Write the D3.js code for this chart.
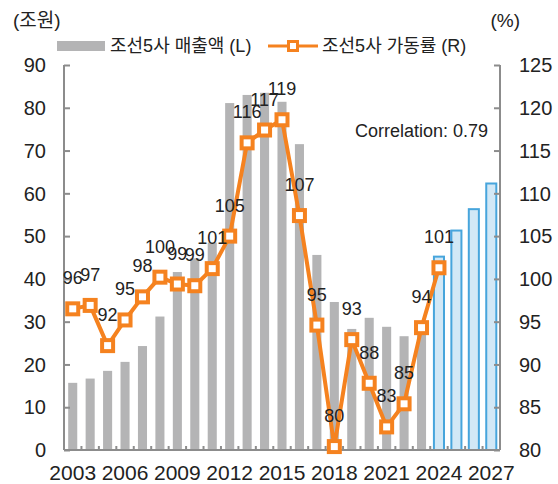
<!DOCTYPE html>
<html>
<head>
<meta charset="utf-8">
<script src="https://cdn.jsdelivr.net/npm/d3@7"></script>
<style>
  body { margin: 0; background: #fff; }
  svg text { font-family: "Liberation Sans", Arial, "Noto Sans CJK KR", sans-serif; fill: #222; }
</style>
</head>
<body>
<svg id="chart" width="558" height="484"></svg>
<script>
// Data
const years = d3.range(2003, 2028).map(String);
const sales = [15.7, 16.7, 18.5, 20.6, 24.3, 31.2, 41.6, 44.8, 48.5, 81.1, 83.0, 83.5, 81.4, 71.5,
               45.6, 34.6, 28.3, 30.9, 28.8, 26.6, 29.5, 45.2, 51.3, 56.3, 62.3];
const forecastFrom = 2024;
const utilYears = d3.range(2003, 2025).map(String);
const utilization = [96.5, 96.9, 92.2, 95.2, 97.9, 100.2, 99.4, 99.2, 101.2, 105.0, 115.9, 117.4,
                     118.6, 107.4, 94.6, 80.4, 92.9, 87.8, 82.7, 85.4, 94.3, 101.3];
const utilLabels = ['96', '97', '92', '95', '98', '100', '99', '99', '101', '105', '116', '117',
                    '119', '107', '95', '80', '93', '88', '83', '85', '94', '101'];
const leftTicks = [0, 10, 20, 30, 40, 50, 60, 70, 80, 90];
const rightTicks = [80, 85, 90, 95, 100, 105, 110, 115, 120, 125];
const yearLabels = ['2003', '2006', '2009', '2012', '2015', '2018', '2021', '2024', '2027'];

const svg = d3.select('#chart');
const plotL = 64, plotR = 500, plotT = 65, plotB = 450;
const orange = '#f5821f', gray = '#b4b4b5', axisColor = '#8c8c8c';

const x = d3.scaleBand().domain(years).range([plotL, plotR]).paddingInner(0.48).paddingOuter(0.24);
const yL = d3.scaleLinear().domain([0, 90]).range([plotB, plotT]);
const yR = d3.scaleLinear().domain([80, 125]).range([plotB, plotT]);

// Bars
svg.append('g').selectAll('rect')
  .data(years.map((y, i) => ({ year: y, v: sales[i] })))
  .join('rect')
  .attr('x', d => +d.year >= forecastFrom ? x(d.year) - 0.5 : x(d.year))
  .attr('width', d => +d.year >= forecastFrom ? x.bandwidth() + 1 : x.bandwidth())
  .attr('y', d => yL(d.v))
  .attr('height', d => plotB - yL(d.v))
  .attr('fill', d => +d.year >= forecastFrom ? '#d2e8f6' : gray)
  .attr('stroke', d => +d.year >= forecastFrom ? '#47a5dc' : 'none')
  .attr('stroke-width', 2);

// Axes
const leftAxis = svg.append('g').attr('transform', `translate(${plotL},0)`)
  .call(d3.axisRight(yL).tickValues(leftTicks).tickSize(6).tickFormat(''));
const rightAxis = svg.append('g').attr('transform', `translate(${plotR},0)`)
  .call(d3.axisLeft(yR).tickValues(rightTicks).tickSize(6).tickFormat(''));
[leftAxis, rightAxis].forEach(a => {
  a.select('.domain').attr('d', `M0,${plotT}V${plotB}`);
});

const step = x.step();
const x0 = x.range()[0];
const bAxis = svg.append('g');
bAxis.append('line').attr('x1', plotL).attr('x2', plotR).attr('y1', plotB).attr('y2', plotB);
bAxis.selectAll('.bt').data(d3.range(1, years.length))
  .join('line').attr('class', 'bt')
  .attr('x1', i => x0 + i * step).attr('x2', i => x0 + i * step)
  .attr('y1', plotB).attr('y2', plotB - 4);
svg.selectAll('.domain, .tick line').attr('stroke', axisColor).attr('stroke-width', 2);
bAxis.selectAll('line').attr('stroke', axisColor).attr('stroke-width', 2);

svg.append('g').selectAll('text').data(leftTicks).join('text')
  .attr('x', plotL - 18).attr('y', d => yL(d)).attr('dy', '0.36em')
  .attr('text-anchor', 'end').style('font-size', '20px').text(d => d);
svg.append('g').selectAll('text').data(rightTicks).join('text')
  .attr('x', plotR + 19).attr('y', d => yR(d)).attr('dy', '0.36em')
  .attr('text-anchor', 'start').style('font-size', '20px').text(d => d);
svg.append('g').selectAll('text').data(yearLabels).join('text')
  .attr('x', d => x(d) + x.bandwidth() / 2).attr('y', 480)
  .attr('text-anchor', 'middle').style('font-size', '21px').text(d => d);

// Line
const pts = utilYears.map((y, i) => ({ year: y, v: utilization[i], label: utilLabels[i] }));
const cx = d => x(d.year) + x.bandwidth() / 2;
svg.append('path').datum(pts)
  .attr('d', d3.line().x(cx).y(d => yR(d.v)))
  .attr('fill', 'none').attr('stroke', orange).attr('stroke-width', 4)
  .attr('stroke-linejoin', 'round');
svg.append('g').selectAll('rect').data(pts).join('rect')
  .attr('x', d => cx(d) - 5.5).attr('y', d => yR(d.v) - 5.5)
  .attr('width', 11).attr('height', 11)
  .attr('fill', '#fff').attr('stroke', orange).attr('stroke-width', 4);
svg.append('g').selectAll('text').data(pts).join('text')
  .attr('x', cx).attr('y', d => yR(d.v) - 31).attr('dy', '0.36em')
  .attr('text-anchor', 'middle').style('font-size', '18px').text(d => d.label);

// Unit labels and note
svg.append('text').attr('x', 13).attr('y', 27).style('font-size', '19px').text('(조원)');
svg.append('text').attr('x', 520).attr('y', 27).attr('text-anchor', 'end').style('font-size', '19px').text('(%)');
svg.append('text').attr('x', 488).attr('y', 137).attr('text-anchor', 'end').style('font-size', '18px').text('Correlation: 0.79');

// Legend
const lg = svg.append('g');
lg.append('rect').attr('x', 57).attr('y', 41).attr('width', 48).attr('height', 10).attr('fill', gray);
lg.append('text').attr('x', 110).attr('y', 52).style('font-size', '18px').text('조선5사 매출액 (L)');
lg.append('line').attr('x1', 268).attr('x2', 318).attr('y1', 46).attr('y2', 46)
  .attr('stroke', orange).attr('stroke-width', 3);
lg.append('rect').attr('x', 288.5).attr('y', 41.5).attr('width', 9).attr('height', 9)
  .attr('fill', '#fff').attr('stroke', orange).attr('stroke-width', 3);
lg.append('text').attr('x', 322).attr('y', 52).style('font-size', '18px').text('조선5사 가동률 (R)');
</script>
</body>
</html>
